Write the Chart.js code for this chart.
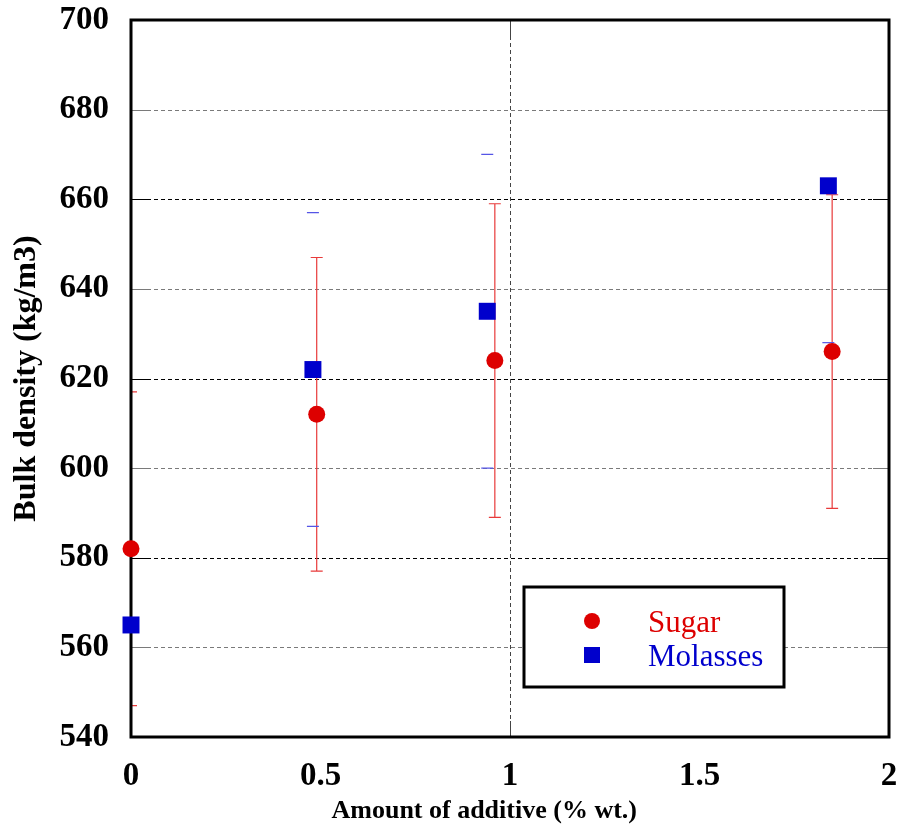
<!DOCTYPE html>
<html>
<head>
<meta charset="utf-8">
<script src="https://cdn.jsdelivr.net/npm/chart.js@4"></script>
<style>
html,body{margin:0;padding:0;background:#fff;}
#wrap{width:901px;height:830px;}
</style>
</head>
<body>
<div id="wrap"><canvas id="c" width="901" height="830"></canvas></div>
<script>
// ---- data ----
const seriesNames = ['Sugar', 'Molasses'];
const xTitle = 'Amount of additive (% wt.)';
const yTitle = 'Bulk density (kg/m3)';
const xSugar = [0, 0.49, 0.96, 1.85];
const sugar = [582, 612, 624, 626];
const sugarErrUp = [35, 35, 35, 35];
const sugarErrDown = [35, 35, 35, 35];
const xMolasses = [0, 0.48, 0.94, 1.84];
const molasses = [565, 622, 635, 663];
const molassesErrUp = [null, 35, 35, null];
const molassesErrDown = [null, 35, 35, 35];
const xTicks = [0, 0.5, 1, 1.5, 2];
const yTicks = [540, 560, 580, 600, 620, 640, 660, 680, 700];
const xGridValues = [1];

const RED = '#dd0000', BLUE = '#0000cc';
const FONT = "'Liberation Serif', 'Times New Roman', serif";

function pts(xs, ys) { return xs.map((x, i) => ({x: x, y: ys[i]})); }

const gridAndErrors = {
  id: 'gridAndErrors',
  beforeDatasetsDraw(chart) {
    const {ctx, chartArea: a, scales: {x, y}} = chart;
    ctx.save();
    ctx.lineWidth = 1;
    // horizontal dashed grid lines with solid inner ticks
    yTicks.forEach(v => {
      if (v === yTicks[0] || v === yTicks[yTicks.length - 1]) return;
      const py = Math.round(y.getPixelForValue(v)) + 0.5;
      ctx.strokeStyle = (v % 40 === 20) ? '#000' : '#7a7a7a';
      ctx.setLineDash([]);
      ctx.beginPath();
      ctx.moveTo(a.left, py); ctx.lineTo(a.left + 16, py);
      ctx.moveTo(a.right - 16, py); ctx.lineTo(a.right, py);
      ctx.stroke();
      ctx.setLineDash([4, 3]);
      ctx.beginPath();
      ctx.moveTo(a.left + 16, py); ctx.lineTo(a.right - 16, py);
      ctx.stroke();
    });
    // vertical dashed grid line(s)
    xGridValues.forEach(v => {
      const px = Math.round(x.getPixelForValue(v)) + 0.5;
      ctx.strokeStyle = '#444';
      ctx.setLineDash([]);
      ctx.beginPath();
      ctx.moveTo(px, a.bottom); ctx.lineTo(px, a.bottom - 16);
      ctx.moveTo(px, a.top); ctx.lineTo(px, a.top + 16);
      ctx.stroke();
      ctx.setLineDash([4, 3]);
      ctx.beginPath();
      ctx.moveTo(px, a.top + 16); ctx.lineTo(px, a.bottom - 16);
      ctx.stroke();
    });
    ctx.setLineDash([]);

    // error bars (clipped to plot area)
    const sets = [
      {xs: xSugar, ys: sugar, up: sugarErrUp, dn: sugarErrDown, color: '#e83a3a', line: true, cap: 6},
      {xs: xMolasses, ys: molasses, up: molassesErrUp, dn: molassesErrDown, color: '#5555e6', line: false, cap: 6}
    ];
    ctx.beginPath();
    ctx.rect(a.left, a.top, a.right - a.left, a.bottom - a.top);
    ctx.clip();
    sets.forEach(s => {
      ctx.strokeStyle = s.color;
      ctx.lineWidth = 1.2;
      s.xs.forEach((xv, i) => {
        const px = x.getPixelForValue(xv);
        const top = s.up[i] != null ? y.getPixelForValue(s.ys[i] + s.up[i]) : null;
        const bot = s.dn[i] != null ? y.getPixelForValue(s.ys[i] - s.dn[i]) : null;
        ctx.beginPath();
        if (s.line && top != null && bot != null) {
          ctx.moveTo(px, top); ctx.lineTo(px, bot);
        }
        if (top != null) { ctx.moveTo(px - s.cap, top); ctx.lineTo(px + s.cap, top); }
        if (bot != null) { ctx.moveTo(px - s.cap, bot); ctx.lineTo(px + s.cap, bot); }
        ctx.stroke();
      });
    });
    ctx.restore();
    // frame
    ctx.save();
    ctx.strokeStyle = '#000';
    ctx.lineWidth = 3;
    ctx.strokeRect(a.left, a.top, a.right - a.left, a.bottom - a.top);
    ctx.restore();
  }
};

const legendBox = {
  id: 'legendBox',
  afterDatasetsDraw(chart) {
    const {ctx, chartArea: a} = chart;
    const bx = a.left + 393, by = a.top + 567, bw = 260, bh = 100;
    ctx.save();
    ctx.fillStyle = '#fff';
    ctx.fillRect(bx, by, bw, bh);
    ctx.strokeStyle = '#000';
    ctx.lineWidth = 3;
    ctx.strokeRect(bx, by, bw, bh);
    ctx.font = "31px " + FONT;
    ctx.textBaseline = 'alphabetic';
    // Sugar
    ctx.fillStyle = RED;
    ctx.beginPath(); ctx.arc(bx + 68, by + 34, 8, 0, Math.PI * 2); ctx.fill();
    ctx.fillText(seriesNames[0], bx + 124, by + 45);
    // Molasses
    ctx.fillStyle = BLUE;
    ctx.fillRect(bx + 60, by + 60, 16, 16);
    ctx.fillText(seriesNames[1], bx + 124, by + 79);
    ctx.restore();
  },
  afterDraw(chart) {
    // x-axis title, slightly left of centre as in the original
    const {ctx, chartArea: a} = chart;
    ctx.save();
    ctx.font = "bold 26px " + FONT;
    ctx.fillStyle = '#000';
    ctx.textAlign = 'center';
    ctx.textBaseline = 'middle';
    ctx.fillText(xTitle, a.left + (a.right - a.left) * 0.466, 811);
    ctx.restore();
  }
};

new Chart(document.getElementById('c'), {
  type: 'scatter',
  data: {
    datasets: [
      {label: seriesNames[0], data: pts(xSugar, sugar), pointStyle: 'circle', pointRadius: 8.5,
       backgroundColor: RED, borderColor: RED, borderWidth: 0, clip: false},
      {label: seriesNames[1], data: pts(xMolasses, molasses), pointStyle: 'rect', pointRadius: 12,
       backgroundColor: BLUE, borderColor: BLUE, borderWidth: 0, clip: false}
    ]
  },
  plugins: [gridAndErrors, legendBox],
  options: {
    responsive: false,
    animation: false,
    events: [],
    layout: {padding: 0},
    plugins: {legend: {display: false}, tooltip: {enabled: false}},
    scales: {
      x: {
        type: 'linear', min: 0, max: 2,
        afterBuildTicks(s) { s.ticks = xTicks.map(v => ({value: v})); },
        afterFit(s) { s.height = 93; s.paddingLeft = 0; s.paddingRight = 12; },
        border: {display: false},
        grid: {display: false, drawTicks: false, tickLength: 0},
        ticks: {
          color: '#000', padding: 20, maxRotation: 0,
          font: {family: FONT, size: 33, weight: 'bold'},
          callback: v => String(v)
        },
        title: {display: false, text: xTitle}
      },
      y: {
        type: 'linear', min: 540, max: 700,
        afterBuildTicks(s) { s.ticks = yTicks.map(v => ({value: v})); },
        afterFit(s) { s.width = 131; s.paddingTop = 20; s.paddingBottom = 0; },
        border: {display: false},
        grid: {display: false, drawTicks: false, tickLength: 0},
        ticks: {
          color: '#000', padding: 22,
          font: {family: FONT, size: 33, weight: 'bold'},
          callback: v => String(v)
        },
        title: {
          display: true, text: yTitle, color: '#000',
          font: {family: FONT, size: 32, weight: 'bold'}, padding: {top: 8, bottom: 0}
        }
      }
    }
  }
});
</script>
</body>
</html>
